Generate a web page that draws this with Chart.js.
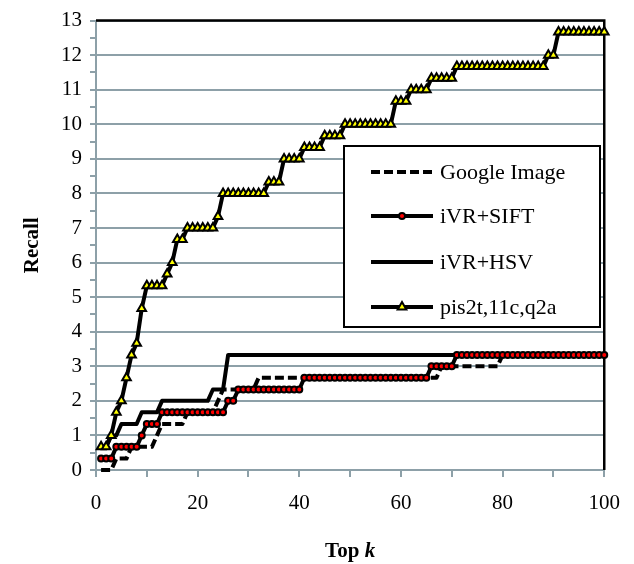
<!DOCTYPE html>
<html lang="en">
<head>
<meta charset="utf-8">
<title>Recall at top k</title>
<script src="https://cdn.jsdelivr.net/npm/chart.js@4/dist/chart.umd.min.js"></script>
<style>
  html, body { margin: 0; padding: 0; background: #fff; }
  #holder { width: 634px; height: 564px; }
</style>
</head>
<body>
<div id="holder"><canvas id="chart"></canvas></div>
<script>
  // top k (x axis)
  var topK = [
    1, 2, 3, 4, 5, 6, 7, 8, 9, 10,
    11, 12, 13, 14, 15, 16, 17, 18, 19, 20,
    21, 22, 23, 24, 25, 26, 27, 28, 29, 30,
    31, 32, 33, 34, 35, 36, 37, 38, 39, 40,
    41, 42, 43, 44, 45, 46, 47, 48, 49, 50,
    51, 52, 53, 54, 55, 56, 57, 58, 59, 60,
    61, 62, 63, 64, 65, 66, 67, 68, 69, 70,
    71, 72, 73, 74, 75, 76, 77, 78, 79, 80,
    81, 82, 83, 84, 85, 86, 87, 88, 89, 90,
    91, 92, 93, 94, 95, 96, 97, 98, 99, 100
  ];

  var googleImage = [
    0, 0, 0, 0.33, 0.33, 0.33, 0.67, 0.67, 0.67, 0.67,
    0.67, 1, 1.33, 1.33, 1.33, 1.33, 1.33, 1.67, 1.67, 1.67,
    1.67, 1.67, 1.67, 2, 2.33, 2.33, 2.33, 2.33, 2.33, 2.33,
    2.33, 2.67, 2.67, 2.67, 2.67, 2.67, 2.67, 2.67, 2.67, 2.67,
    2.67, 2.67, 2.67, 2.67, 2.67, 2.67, 2.67, 2.67, 2.67, 2.67,
    2.67, 2.67, 2.67, 2.67, 2.67, 2.67, 2.67, 2.67, 2.67, 2.67,
    2.67, 2.67, 2.67, 2.67, 2.67, 2.67, 2.67, 3, 3, 3,
    3, 3, 3, 3, 3, 3, 3, 3, 3, 3.33,
    3.33, 3.33, 3.33, 3.33, 3.33, 3.33, 3.33, 3.33, 3.33, 3.33,
    3.33, 3.33, 3.33, 3.33, 3.33, 3.33, 3.33, 3.33, 3.33, 3.33
  ];

  var ivrSift = [
    0.33, 0.33, 0.33, 0.67, 0.67, 0.67, 0.67, 0.67, 1, 1.33,
    1.33, 1.33, 1.67, 1.67, 1.67, 1.67, 1.67, 1.67, 1.67, 1.67,
    1.67, 1.67, 1.67, 1.67, 1.67, 2, 2, 2.33, 2.33, 2.33,
    2.33, 2.33, 2.33, 2.33, 2.33, 2.33, 2.33, 2.33, 2.33, 2.33,
    2.67, 2.67, 2.67, 2.67, 2.67, 2.67, 2.67, 2.67, 2.67, 2.67,
    2.67, 2.67, 2.67, 2.67, 2.67, 2.67, 2.67, 2.67, 2.67, 2.67,
    2.67, 2.67, 2.67, 2.67, 2.67, 3, 3, 3, 3, 3,
    3.33, 3.33, 3.33, 3.33, 3.33, 3.33, 3.33, 3.33, 3.33, 3.33,
    3.33, 3.33, 3.33, 3.33, 3.33, 3.33, 3.33, 3.33, 3.33, 3.33,
    3.33, 3.33, 3.33, 3.33, 3.33, 3.33, 3.33, 3.33, 3.33, 3.33
  ];

  var ivrHsv = [
    0.67, 0.67, 1, 1, 1.33, 1.33, 1.33, 1.33, 1.67, 1.67,
    1.67, 1.67, 2, 2, 2, 2, 2, 2, 2, 2,
    2, 2, 2.33, 2.33, 2.33, 3.33, 3.33, 3.33, 3.33, 3.33,
    3.33, 3.33, 3.33, 3.33, 3.33, 3.33, 3.33, 3.33, 3.33, 3.33,
    3.33, 3.33, 3.33, 3.33, 3.33, 3.33, 3.33, 3.33, 3.33, 3.33,
    3.33, 3.33, 3.33, 3.33, 3.33, 3.33, 3.33, 3.33, 3.33, 3.33,
    3.33, 3.33, 3.33, 3.33, 3.33, 3.33, 3.33, 3.33, 3.33, 3.33,
    3.33, 3.33, 3.33, 3.33, 3.33, 3.33, 3.33, 3.33, 3.33, 3.33,
    3.33, 3.33, 3.33, 3.33, 3.33, 3.33, 3.33, 3.33, 3.33, 3.33,
    3.33, 3.33, 3.33, 3.33, 3.33, 3.33, 3.33, 3.33, 3.33, 3.33
  ];

  var pis2t = [
    0.67, 0.67, 1, 1.67, 2, 2.67, 3.33, 3.67, 4.67, 5.33,
    5.33, 5.33, 5.33, 5.67, 6, 6.67, 6.67, 7, 7, 7,
    7, 7, 7, 7.33, 8, 8, 8, 8, 8, 8,
    8, 8, 8, 8.33, 8.33, 8.33, 9, 9, 9, 9,
    9.33, 9.33, 9.33, 9.33, 9.67, 9.67, 9.67, 9.67, 10, 10,
    10, 10, 10, 10, 10, 10, 10, 10, 10.67, 10.67,
    10.67, 11, 11, 11, 11, 11.33, 11.33, 11.33, 11.33, 11.33,
    11.67, 11.67, 11.67, 11.67, 11.67, 11.67, 11.67, 11.67, 11.67, 11.67,
    11.67, 11.67, 11.67, 11.67, 11.67, 11.67, 11.67, 11.67, 12, 12,
    12.67, 12.67, 12.67, 12.67, 12.67, 12.67, 12.67, 12.67, 12.67, 12.67
  ];

  var seriesNames = ['Google Image', 'iVR+SIFT', 'iVR+HSV', 'pis2t,11c,q2a'];

  var serif = '"Liberation Serif", "Times New Roman", serif';
  var gridColor = '#8da0a8';

  function pts(values) {
    return topK.map(function (k, i) { return { x: k, y: values[i] }; });
  }

  var datasets = [
    {
      label: seriesNames[0], data: pts(googleImage),
      borderColor: '#000', borderWidth: 4, borderDash: [9, 4],
      pointRadius: 0, order: 4
    },
    {
      label: seriesNames[1], data: pts(ivrSift),
      borderColor: '#000', borderWidth: 4,
      pointStyle: 'circle', pointRadius: 3, pointBorderWidth: 2,
      pointBackgroundColor: '#ff0000', pointBorderColor: '#000', order: 2
    },
    {
      label: seriesNames[2], data: pts(ivrHsv),
      borderColor: '#000', borderWidth: 4,
      pointRadius: 0, order: 3
    },
    {
      label: seriesNames[3], data: pts(pis2t),
      borderColor: '#000', borderWidth: 4,
      pointStyle: 'triangle', pointRadius: 5, pointBorderWidth: 2,
      pointBackgroundColor: '#ffff00', pointBorderColor: '#000', order: 1
    }
  ];
  datasets.forEach(function (d) {
    d.tension = 0;
    d.fill = false;
    d.clip = false;
    d.borderJoinStyle = 'round';
    d.pointHoverRadius = d.pointRadius;
  });

  // black frame on top and right side of the plot
  var frame = {
    id: 'frame',
    beforeDatasetsDraw: function (chart) {
      var ctx = chart.ctx, a = chart.chartArea;
      ctx.save();
      ctx.strokeStyle = '#000';
      ctx.lineWidth = 2.5;
      ctx.beginPath();
      ctx.moveTo(a.left, a.top);
      ctx.lineTo(a.right, a.top);
      ctx.lineTo(a.right, a.bottom);
      ctx.stroke();
      ctx.restore();
    }
  };

  // boxed legend inside the plot and the "Top k" axis title
  var boxLegend = {
    id: 'boxLegend',
    afterDatasetsDraw: function (chart) {
      var ctx = chart.ctx;
      ctx.save();
      ctx.fillStyle = '#fff';
      ctx.fillRect(344, 146, 256, 181);
      ctx.strokeStyle = '#000';
      ctx.lineWidth = 2;
      ctx.strokeRect(344, 146, 256, 181);

      var rows = [172, 216, 262, 307];
      chart.data.datasets.forEach(function (d, i) {
        var y = rows[i];
        ctx.save();
        ctx.strokeStyle = d.borderColor;
        ctx.lineWidth = d.borderWidth;
        ctx.setLineDash(d.borderDash || []);
        ctx.beginPath();
        ctx.moveTo(371, y);
        ctx.lineTo(433, y);
        ctx.stroke();
        ctx.restore();
        if (d.pointRadius > 0) {
          ctx.fillStyle = d.pointBackgroundColor;
          ctx.strokeStyle = d.pointBorderColor;
          ctx.lineWidth = d.pointBorderWidth;
          Chart.helpers.drawPoint(ctx, {
            pointStyle: d.pointStyle, radius: d.pointRadius,
            borderWidth: d.pointBorderWidth, rotation: 0
          }, 402, y);
        }
        ctx.fillStyle = '#000';
        ctx.font = '22px ' + serif;
        ctx.textAlign = 'left';
        ctx.textBaseline = 'middle';
        ctx.fillText(d.label, 440, y + 1);
      });

      // x axis title, "k" in italics
      var a = chart.chartArea;
      var cx = (a.left + a.right) / 2;
      ctx.fillStyle = '#000';
      ctx.textBaseline = 'middle';
      ctx.textAlign = 'left';
      ctx.font = 'bold 21px ' + serif;
      var w1 = ctx.measureText('Top ').width;
      ctx.font = 'italic bold 21px ' + serif;
      var w2 = ctx.measureText('k').width;
      var x0 = cx - (w1 + w2) / 2;
      ctx.font = 'bold 21px ' + serif;
      ctx.fillText('Top ', x0, 552);
      ctx.font = 'italic bold 21px ' + serif;
      ctx.fillText('k', x0 + w1, 552);
      ctx.restore();
    }
  };

  var config = {
    type: 'line',
    data: { datasets: datasets },
    options: {
      responsive: true,
      maintainAspectRatio: false,
      animation: false,
      layout: { padding: { top: 13, right: 29, left: 0, bottom: 0 } },
      plugins: {
        legend: { display: false },
        tooltip: { enabled: false }
      },
      scales: {
        x: {
          type: 'linear', min: 0, max: 100,
          afterFit: function (s) { s.height = 94; },
          ticks: {
            stepSize: 10, autoSkip: false, maxRotation: 0, padding: 14,
            color: '#000', font: { family: serif, size: 21 },
            callback: function (v) { return v % 20 === 0 ? v : ''; }
          },
          grid: { drawOnChartArea: false, tickColor: gridColor, tickLength: 7, lineWidth: 2 },
          border: { color: gridColor, width: 2 }
        },
        y: {
          type: 'linear', min: 0, max: 13,
          afterFit: function (s) { s.width = 96; },
          ticks: {
            stepSize: 0.5, autoSkip: false, padding: 8,
            color: '#000', font: { family: serif, size: 21 },
            callback: function (v) { return Number.isInteger(v) ? v : ''; }
          },
          grid: {
            color: function (c) {
              return c.tick && Number.isInteger(c.tick.value) ? gridColor : 'rgba(0,0,0,0)';
            },
            tickColor: gridColor, tickLength: 6, lineWidth: 2
          },
          border: { color: gridColor, width: 2 },
          title: {
            display: true, text: 'Recall', color: '#000',
            font: { family: serif, size: 21, weight: 'bold' },
            padding: { top: 20, bottom: 0 }
          }
        }
      }
    },
    plugins: [frame, boxLegend]
  };

  var myChart = new Chart(document.getElementById('chart').getContext('2d'), config);
</script>
</body>
</html>
